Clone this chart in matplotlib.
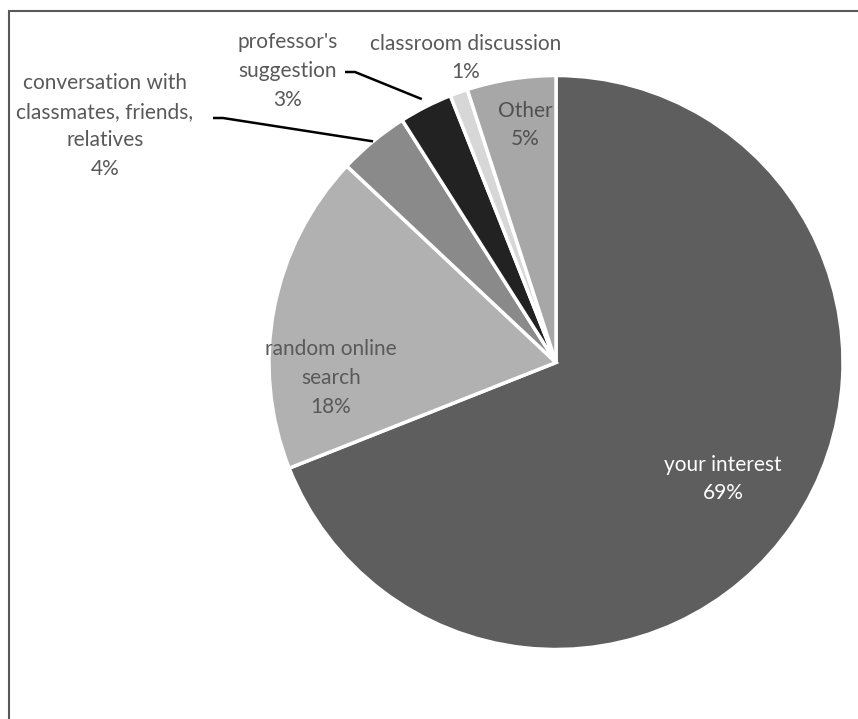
import numpy as np
import matplotlib
matplotlib.use("Agg")
import matplotlib.pyplot as plt
from matplotlib.patches import Rectangle

plt.rcParams["font.family"] = ["Lato", "DejaVu Sans"]

sources = ["your interest", "random online search",
           "conversation with classmates, friends, relatives",
           "professor's suggestion", "classroom discussion", "Other"]
shares = [69, 18, 4, 3, 1, 5]
colors = ["#5e5e5e", "#b1b1b1", "#8a8a8a", "#222222", "#d7d7d7", "#a7a7a7"]

W, H = 858, 719
fig = plt.figure(figsize=(W / 100, H / 100), dpi=100)

# pie centre and radius in pixels
cx, cy, r = 556, 362.5, 287
ax = fig.add_axes([(cx - r) / W, (H - cy - r) / H, 2 * r / W, 2 * r / H])
wedges, _ = ax.pie(shares, colors=colors, startangle=90, counterclock=False,
                   radius=1, wedgeprops=dict(edgecolor="white", linewidth=2.5))
ax.set_xlim(-1, 1)
ax.set_ylim(-1, 1)
ax.set_aspect("equal")
ax.axis("off")


def px(x, y):
    # pixel position -> data coordinates
    return (x - cx) / r, (cy - y) / r


label_pos = [
    (723, 479, "your interest\n{}%", "white"),
    (331, 378, "random online\nsearch\n{}%", "#595959"),
    (105, 126, "conversation with\nclassmates, friends,\nrelatives\n{}%", "#595959"),
    (288, 71, "professor's\nsuggestion\n{}%", "#595959"),
    (466, 58, "classroom discussion\n{}%", "#595959"),
    (525, 125, "Other\n{}%", "#505050"),
]
for (x, y, fmt, c), v in zip(label_pos, shares):
    tx, ty = px(x, y)
    ax.text(tx, ty, fmt.format(v), color=c, fontsize=15, ha="center",
            va="center", linespacing=1.55, clip_on=False)

# leader lines for the two small wedges on the upper left
for i, (sx, sy), rr in [(2, (213, 118), 1.0), (3, (345, 72), 1.03)]:
    w = wedges[i]
    ang = np.deg2rad((w.theta1 + w.theta2) / 2)
    ex, ey = rr * np.cos(ang), rr * np.sin(ang)
    x0, y0 = px(sx, sy)
    x1, y1 = px(sx + 10, sy)
    ax.plot([x0, x1, ex], [y0, y1, ey], color="black", lw=1.8,
            clip_on=False, solid_capstyle="butt")

# outer frame
fig.patches.append(Rectangle((9 / W, -0.05), 1.1, (H - 11) / H + 0.05,
                             transform=fig.transFigure, fill=False,
                             edgecolor="#595959", lw=1.5))

fig.savefig("out.png", dpi=100, facecolor="white")
